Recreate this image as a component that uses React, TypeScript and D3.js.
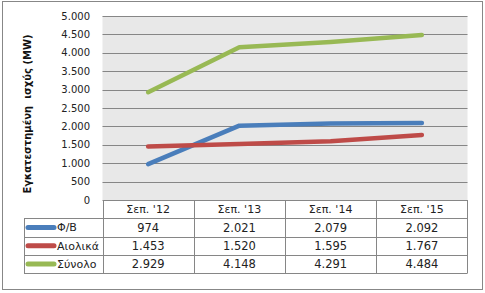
import React from "react";
import * as d3 from "d3";

const categories = ["Σεπ. '12", "Σεπ. '13", "Σεπ. '14", "Σεπ. '15"];
const seriesNames = ["Φ/Β", "Αιολικά", "Σύνολο"];
const pvValues = [974, 2021, 2079, 2092];
const windValues = [1453, 1520, 1595, 1767];
const totalValues = [2929, 4148, 4291, 4484];
const yTicks = [0, 500, 1000, 1500, 2000, 2500, 3000, 3500, 4000, 4500, 5000];
const colors = ["#4a7ebb", "#be4b48", "#98b954"];
const yTitle = "Εγκατεστημένη  ισχύς (MW)";

const W = 485;
const H = 293;
const plotLeft = 102.5;
const plotRight = 467.5;
const plotTop = 16;
const plotBottom = 200;
const rowH = 18.3;
const legendLeft = 24;

const fmt = (v: number) => {
  const s = String(v);
  return s.length > 3 ? s.slice(0, s.length - 3) + "." + s.slice(s.length - 3) : s;
};

export default function App() {
  const series = [pvValues, windValues, totalValues];
  const x = d3.scaleBand<string>().domain(categories).range([plotLeft, plotRight]);
  const y = d3.scaleLinear().domain([0, 5000]).range([plotBottom, plotTop]);
  const line = d3
    .line<number>()
    .x((_, i) => (x(categories[i]) as number) + x.bandwidth() / 2)
    .y((d) => y(d));
  const font = "'DejaVu Sans', Verdana, sans-serif";
  const grid = "#868686";
  const tableTop = plotBottom;
  const rows = seriesNames.length;
  const tableBottom = tableTop + rowH * (rows + 1);
  return (
    <svg
      width={W}
      height={H}
      style={{ position: "absolute", left: 0, top: 0, background: "#fff" }}
      fontFamily={font}
    >
      <rect x={2.5} y={1.5} width={480} height={288} fill="#fff" stroke="#878787" strokeWidth={1} />
      <rect x={plotLeft} y={plotTop} width={plotRight - plotLeft} height={plotBottom - plotTop} fill="#e8e8e8" />
      {yTicks.map((t) => (
        <g key={t}>
          {t > 0 && (
            <line x1={plotLeft} x2={plotRight} y1={Math.round(y(t)) + 0.5} y2={Math.round(y(t)) + 0.5} stroke={grid} strokeWidth={1} />
          )}
          <text x={90} y={y(t)} dy="0.35em" textAnchor="end" fontSize={10} fill="#222">
            {fmt(t)}
          </text>
        </g>
      ))}
      <text
        transform={`translate(31,${(plotTop + plotBottom) / 2 + 6}) rotate(-90)`}
        textAnchor="middle"
        fontSize={10}
        fontWeight="bold"
        fill="#111"
        style={{ whiteSpace: "pre" }}
      >
        {yTitle}
      </text>
      {series.map((vals, i) => (
        <path
          key={i}
          d={line(vals) as string}
          fill="none"
          stroke={colors[i]}
          strokeWidth={4.5}
          strokeLinecap="round"
          strokeLinejoin="round"
        />
      ))}
      {/* table */}
      <g stroke={grid} strokeWidth={1} fill="none">
        <line x1={plotLeft} x2={plotRight} y1={tableTop + 0.5} y2={tableTop + 0.5} />
        {d3.range(1, rows + 2).map((r) => (
          <line
            key={r}
            x1={legendLeft}
            x2={plotRight}
            y1={Math.round(tableTop + r * rowH) + 0.5}
            y2={Math.round(tableTop + r * rowH) + 0.5}
          />
        ))}
        <line x1={legendLeft + 0.5} x2={legendLeft + 0.5} y1={tableTop + rowH} y2={tableBottom} />
        {categories.map((c) => (
          <line
            key={c}
            x1={Math.round(x(c) as number) + 0.5}
            x2={Math.round(x(c) as number) + 0.5}
            y1={tableTop}
            y2={tableBottom}
          />
        ))}
        <line x1={plotRight} x2={plotRight} y1={tableTop} y2={tableBottom} />
      </g>
      {categories.map((c) => (
        <text
          key={c}
          x={(x(c) as number) + x.bandwidth() / 2}
          y={tableTop + rowH / 2}
          dy="0.36em"
          textAnchor="middle"
          fontSize={11}
          fill="#222"
        >
          {c}
        </text>
      ))}
      {seriesNames.map((name, i) => {
        const cy = tableTop + rowH * (i + 1) + rowH / 2;
        return (
          <g key={name}>
            <line x1={28} x2={54} y1={cy} y2={cy} stroke={colors[i]} strokeWidth={5} strokeLinecap="round" />
            <text x={57} y={cy} dy="0.36em" fontSize={11} fill="#222">
              {name}
            </text>
            {series[i].map((v, j) => (
              <text
                key={j}
                x={(x(categories[j]) as number) + x.bandwidth() / 2}
                y={cy}
                dy="0.36em"
                textAnchor="middle"
                fontSize={11.5}
                fill="#222"
              >
                {fmt(v)}
              </text>
            ))}
          </g>
        );
      })}
    </svg>
  );
}
